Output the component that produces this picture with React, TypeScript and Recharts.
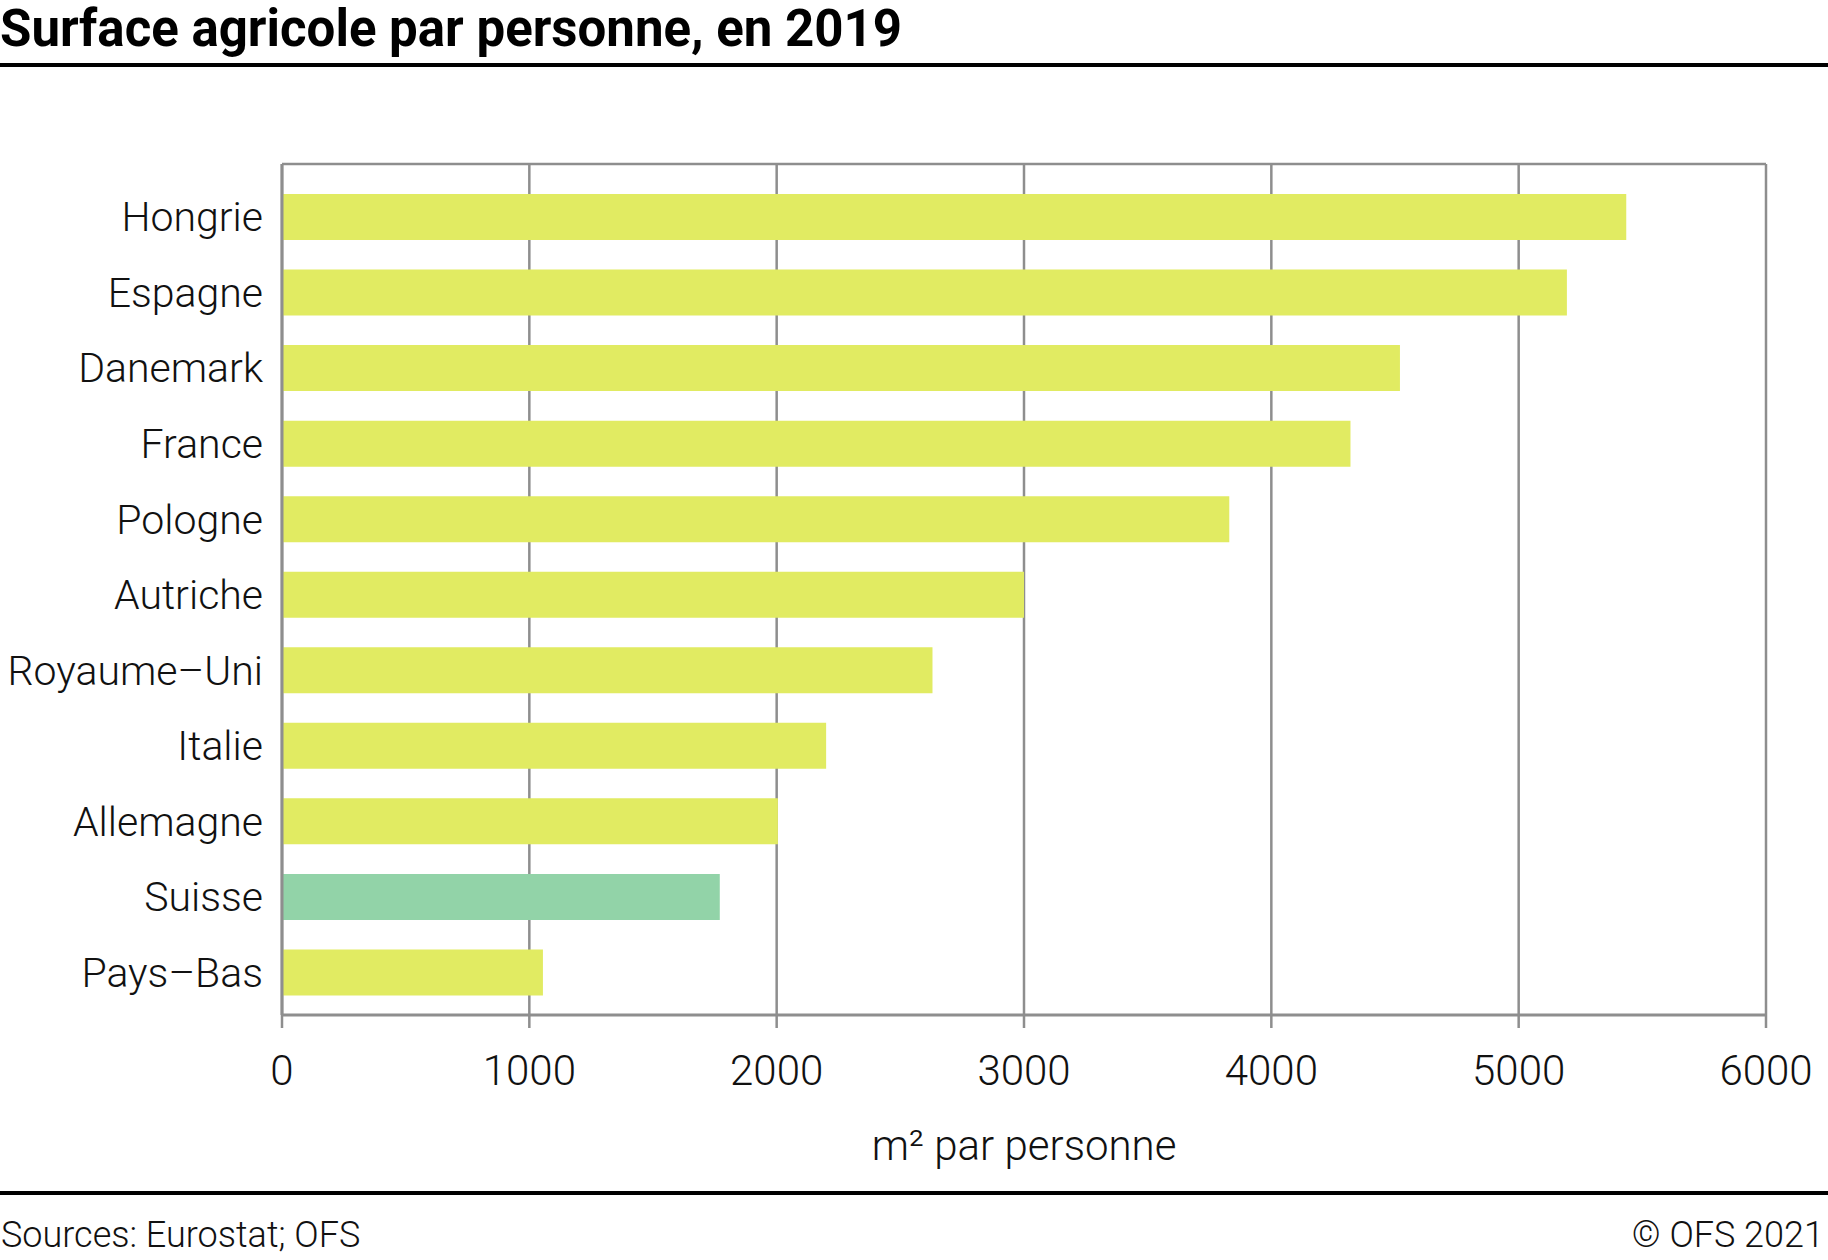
import React from 'react';
import { BarChart, Bar, XAxis, YAxis, CartesianGrid, Cell } from 'recharts';

const countries = [
  'Hongrie',
  'Espagne',
  'Danemark',
  'France',
  'Pologne',
  'Autriche',
  'Royaume–Uni',
  'Italie',
  'Allemagne',
  'Suisse',
  'Pays–Bas',
];
const surface = [5435, 5195, 4520, 4320, 3830, 3000, 2630, 2200, 2005, 1770, 1055];
const xTicks = [0, 1000, 2000, 3000, 4000, 5000, 6000];
const highlight = 'Suisse';

const data = countries.map((name, i) => ({ name, value: surface[i] }));

const W = 1828;
const H = 1260;
const FONT = 'Roboto, "Noto Sans", sans-serif';
const GRID = '#8e8e8e';
const BAR = '#e1eb62';
const BAR_CH = '#92d3a8';

const App: React.FC = () => {
  return (
    <div style={{ position: 'absolute', left: 0, top: 0, width: W, height: H, background: '#fff' }}>
      <BarChart
        width={W}
        height={H}
        data={data}
        layout="vertical"
        margin={{ top: 164, right: 62, bottom: 185, left: 0 }}
        barCategoryGap={0}
      >
        <CartesianGrid
          horizontal
          vertical
          horizontalPoints={[164]}
          stroke={GRID}
          strokeWidth={2.5}
        />
        <XAxis
          type="number"
          domain={[0, 6000]}
          ticks={xTicks}
          interval={0}
          height={60}
          tickSize={13}
          tickMargin={27}
          axisLine={{ stroke: GRID, strokeWidth: 3 }}
          tickLine={{ stroke: GRID, strokeWidth: 2.5 }}
          tick={{ fill: '#111', fontSize: 42, fontWeight: 300, fontFamily: FONT }}
        />
        <YAxis
          type="category"
          dataKey="name"
          width={282}
          tickSize={0}
          tickMargin={19}
          interval={0}
          padding={{ top: 15, bottom: 5 }}
          axisLine={{ stroke: GRID, strokeWidth: 3 }}
          tickLine={false}
          tick={{ fill: '#111', fontSize: 41, fontWeight: 300, fontFamily: FONT }}
        />
        <Bar dataKey="value" barSize={46} isAnimationActive={false}>
          {data.map((d) => (
            <Cell key={d.name} fill={d.name === highlight ? BAR_CH : BAR} />
          ))}
        </Bar>
      </BarChart>
      <svg
        width={W}
        height={H}
        style={{ position: 'absolute', left: 0, top: 0, pointerEvents: 'none' }}
      >
        <text x={0} y={46} fontFamily={FONT} fontWeight={700} fontSize={51} fill="#000">
          Surface agricole par personne, en 2019
        </text>
        <rect x={0} y={63} width={W} height={4} fill="#000" />
        <text
          x={1024}
          y={1160}
          textAnchor="middle"
          fontFamily={FONT}
          fontWeight={300}
          fontSize={42}
          fill="#111"
        >
          m² par personne
        </text>
        <rect x={0} y={1191} width={W} height={4} fill="#000" />
        <text x={1} y={1247} fontFamily={FONT} fontWeight={300} fontSize={36} fill="#111">
          Sources: Eurostat; OFS
        </text>
        <text
          x={1824}
          y={1247}
          textAnchor="end"
          fontFamily={FONT}
          fontWeight={300}
          fontSize={36}
          fill="#111"
        >
          © OFS 2021
        </text>
      </svg>
    </div>
  );
};

export default App;
